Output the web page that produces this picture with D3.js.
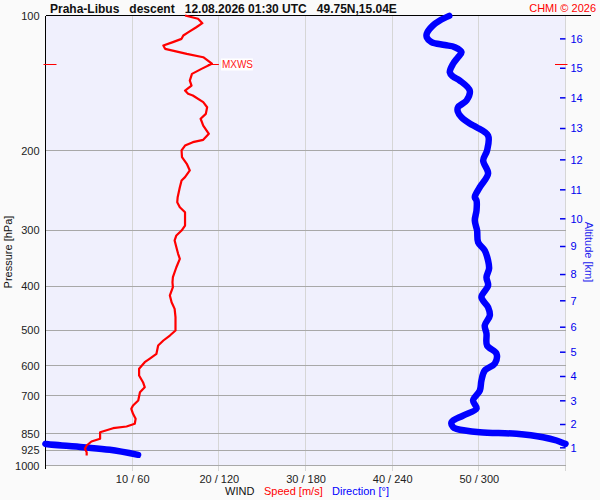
<!DOCTYPE html>
<html><head><meta charset="utf-8">
<script src="https://cdn.jsdelivr.net/npm/d3@7"></script>
<style>body{margin:0;background:#fafafa}svg{display:block}text{font-family:"Liberation Sans",Arial,sans-serif}</style>
</head><body><div id="chart"></div>
<script>
// ---- data ----
const pressureTicks = [100,200,300,400,500,600,700,850,925,1000];
const windTicks = [10,20,30,40,50];
const windTickLabels = ["10 / 60","20 / 120","30 / 180","40 / 240","50 / 300"];
const altKm = [16,15,14,13,12,11,10,9,8,7,6,5,4,3,2,1];
const altP  = [112.7,131.0,152.4,178.3,209.3,244.0,283.0,326.1,376.4,430.5,492.8,560.0,634.2,718.2,810.8,913.4];
const speedP = [100.0,101.7,104.0,106.2,108.9,110.8,112.7,114.6,116.6,118.6,121.7,123.8,128.0,131.4,134.8,139.5,143.1,146.8,149.3,150.6,155.8,159.9,165.4,169.6,175.6,183.2,188.9,191.2,194.5,199.5,206.5,213.6,221.0,228.7,232.6,240.7,253.4,259.9,266.7,273.6,292.9,300.5,308.2,316.2,327.3,338.5,347.3,362.6,381.6,391.5,401.6,419.0,433.6,448.6,468.3,476.3,501.2,514.2,527.5,541.2,564.7,579.3,589.5,609.8,631.0,653.0,669.9,687.3,717.0,735.6,748.1,767.5,787.5,807.9,819.1,826.3,843.4,872.4,884.5,902.8,918.1,934.3,950.2];
const speedV = [16.1,17.6,18.1,17.4,16.5,15.9,15.7,14.7,13.6,13.8,16.3,18.2,19.2,18.0,16.9,16.65,16.85,16.1,16.45,17.0,18.2,18.65,18.5,17.9,18.2,18.85,18.2,17.0,16.1,15.7,15.75,16.3,16.65,16.1,15.7,15.5,15.25,15.2,15.5,16.1,16.1,15.7,15.1,14.9,15.1,15.3,15.5,15.1,14.7,14.65,14.7,14.35,14.55,14.9,15.0,15.0,15.0,14.35,13.6,13.0,12.8,12.0,11.45,10.8,10.8,11.25,11.45,10.9,10.7,10.1,9.9,10.1,10.4,10.3,9.35,7.8,6.3,6.3,5.3,4.75,4.55,4.75,4.75];
const dirP = [100.2,102.6,105.3,109.6,111.9,114.6,116.3,117.6,120.7,124.0,128.0,133.7,136.6,139.5,146.8,154.5,159.9,163.4,168.3,173.8,177.1,184.8,199.5,210.0,224.5,240.7,253.4,257.7,271.2,285.5,300.5,319.0,332.8,350.4,365.0,381.6,398.1,422.7,444.9,464.2,488.6,509.1,541.2,563.9,593.4,615.2,647.3,681.3,717.0,747.0,774.4,801.3,822.1,828.9,843.4,850.4,865.3,880.0,894.0,896.0,910.7,922.9,946.8];
const dirV = [279.5,273.0,268.1,264.0,264.0,267.2,276.4,283.4,288.0,285.4,282.2,279.9,282.0,286.8,293.7,291.5,285.6,285.4,288.0,293.7,298.4,306.4,305.7,303.0,306.4,300.7,297.2,298.4,298.4,297.2,298.8,299.5,304.1,306.4,307.1,305.3,306.4,301.8,306.4,307.6,304.1,305.3,305.7,312.2,311.1,304.1,301.8,300.7,296.0,298.4,289.1,281.1,282.2,284.5,300.7,326.1,344.5,353.8,359.5,0.4,26.0,44.5,64.1];
const maxWind = {p:128.0, v:19.2, label:"MXWS"};
const title = "Praha-Libus   descent   12.08.2026 01:30 UTC   49.75N,15.04E";
const credit = "CHMI © 2026";

// ---- layout ----
const W=600,H=500, L=45.5, R=565.5, T=15.5, B=465.5;
const svg = d3.select("#chart").append("svg").attr("width",W).attr("height",H);
svg.append("rect").attr("width",W).attr("height",H).attr("fill","#fafafa");

const y = d3.scaleLog().domain([100,1000]).range([T,B]);
const xs = d3.scaleLinear().domain([0,60]).range([L,R]);
const xd = d3.scaleLinear().domain([0,360]).range([L,R]);

svg.append("rect").attr("x",L).attr("y",T).attr("width",R-L).attr("height",B-T).attr("fill","#f0f0fd");

// vertical grid
const grid = svg.append("g").attr("shape-rendering","crispEdges");
grid.selectAll("line.v").data(windTicks.concat([60])).join("line")
  .attr("x1",d=>xs(d)).attr("x2",d=>xs(d)).attr("y1",T).attr("y2",B+5)
  .attr("stroke","#d6d6d6");
// horizontal grid
grid.selectAll("line.h").data(pressureTicks.slice(1)).join("line")
  .attr("x1",L).attr("x2",R).attr("y1",d=>y(d)).attr("y2",d=>y(d))
  .attr("stroke","#a8a8a8");
// axes lines
grid.append("line").attr("x1",L).attr("x2",L).attr("y1",T).attr("y2",B+3).attr("stroke","#000");
grid.append("line").attr("x1",L).attr("x2",591).attr("y1",T).attr("y2",T).attr("stroke","#000");

// left axis labels
const leftAxis = d3.axisLeft(y).tickValues(pressureTicks).tickFormat(d3.format("d")).tickSize(0).tickPadding(6);
const gl = svg.append("g").attr("transform",`translate(${L},0)`).call(leftAxis);
gl.select(".domain").remove();
gl.selectAll("text").attr("font-size",11).attr("fill","#222").attr("font-family","Liberation Sans, Arial, sans-serif");

// bottom axis labels
const bottomAxis = d3.axisBottom(xs).tickValues(windTicks).tickFormat((d,i)=>windTickLabels[i]).tickSize(0).tickPadding(10);
const gb = svg.append("g").attr("transform",`translate(0,${B})`).call(bottomAxis);
gb.select(".domain").remove();
gb.selectAll("text").attr("font-size",11).attr("fill","#222").attr("font-family","Liberation Sans, Arial, sans-serif");

// right altitude axis
const ga = svg.append("g");
ga.selectAll("line").data(altKm).join("line")
  .attr("x1",R-5.5).attr("x2",R).attr("y1",(d,i)=>y(altP[i])).attr("y2",(d,i)=>y(altP[i]))
  .attr("stroke","#0000ee").attr("stroke-width",1.5);
ga.selectAll("text").data(altKm).join("text")
  .attr("x",R+5).attr("y",(d,i)=>y(altP[i])).attr("dy","0.35em")
  .attr("font-size",11).attr("fill","#0000ee").text(d=>d);

// axis titles
svg.append("text").attr("transform","translate(12,252) rotate(-90)").attr("text-anchor","middle")
  .attr("font-size",11).attr("fill","#111").text("Pressure [hPa]");
svg.append("text").attr("transform","translate(585,252) rotate(90)").attr("text-anchor","middle")
  .attr("font-size",11).attr("fill","#2222ee").text("Altitude [km]");
svg.append("text").attr("x",225).attr("y",495).attr("font-size",11).attr("fill","#111").text("WIND");
svg.append("text").attr("x",264).attr("y",495).attr("font-size",11).attr("fill","#ff0000").text("Speed [m/s]");
svg.append("text").attr("x",332).attr("y",495).attr("font-size",11).attr("fill","#0000ff").text("Direction [°]");

// title
svg.append("text").attr("x",50).attr("y",13).attr("font-size",12).attr("font-weight","bold")
  .attr("fill","#111").style("white-space","pre").attr("xml:space","preserve").text(title);
svg.append("text").attr("x",596).attr("y",11.5).attr("text-anchor","end").attr("font-size",11)
  .attr("fill","#ff0000").text(credit);

// direction line (wrapping at 360)
const segs=[]; let cur=[[dirV[0],dirP[0]]];
for(let i=1;i<dirV.length;i++){
  const d0=dirV[i-1], d1=dirV[i], p0=dirP[i-1], p1=dirP[i];
  if(Math.abs(d1-d0)>180){
    const up = d0>d1; const d1u = up? d1+360 : d1-360;
    const edge = up?360:0;
    const t=(edge-d0)/(d1u-d0);
    const pc = Math.exp(Math.log(p0)+t*(Math.log(p1)-Math.log(p0)));
    cur.push([edge,pc]); segs.push(cur); cur=[[up?0:360,pc],[d1,p1]];
  } else cur.push([d1,p1]);
}
segs.push(cur);
const dline = d3.line().x(d=>xd(d[0])).y(d=>y(d[1])).curve(d3.curveCatmullRom.alpha(0.5));
svg.append("g").selectAll("path").data(segs).join("path").attr("d",dline)
  .attr("fill","none").attr("stroke","#0000ff").attr("stroke-width",6.5)
  .attr("stroke-linecap","round").attr("stroke-linejoin","round");

// speed line
const sData = speedP.map((p,i)=>[speedV[i],p]);
const sline = d3.line().x(d=>xs(d[0])).y(d=>y(d[1]));
svg.append("path").datum(sData).attr("d",sline).attr("fill","none").attr("stroke","#ff0000")
  .attr("stroke-width",2.2).attr("stroke-linejoin","round");

// max wind marker
const my = Math.round(y(maxWind.p))+0.5;
const mx = xs(maxWind.v);
svg.append("line").attr("x1",mx-4).attr("x2",mx+7).attr("y1",my).attr("y2",my).attr("stroke","#ff0000");
svg.append("rect").attr("x",mx+9).attr("y",my-6).attr("width",32).attr("height",12).attr("fill","#ffffff");
svg.append("text").attr("x",mx+10).attr("y",my).attr("dy","0.36em").attr("font-size",10).attr("fill","#ff2020").text(maxWind.label);
svg.append("line").attr("x1",L-2).attr("x2",L+11).attr("y1",my).attr("y2",my).attr("stroke","#ff0000");
svg.append("line").attr("x1",R-10.5).attr("x2",R+2).attr("y1",my).attr("y2",my).attr("stroke","#ff0000");
</script></body></html>
